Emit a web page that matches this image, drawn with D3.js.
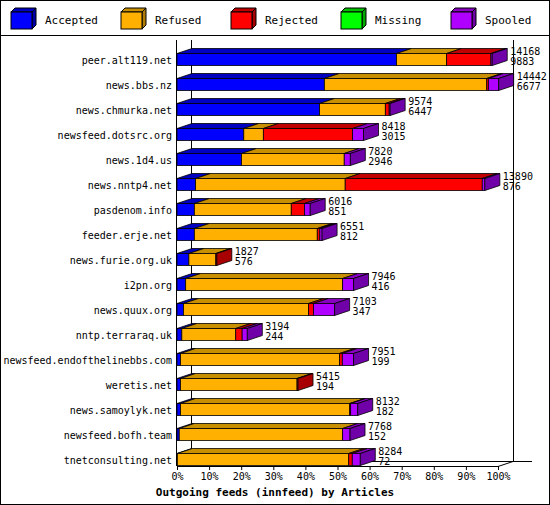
<!DOCTYPE html>
<html><head><meta charset="utf-8">
<script src="https://cdn.jsdelivr.net/npm/d3@7"></script>
<style>body{margin:0;background:#fff}</style>
</head><body>
<script>
// feed names, top to bottom
const feeds = ["peer.alt119.net","news.bbs.nz","news.chmurka.net","newsfeed.dotsrc.org","news.1d4.us",
  "news.nntp4.net","pasdenom.info","feeder.erje.net","news.furie.org.uk","i2pn.org","news.quux.org",
  "nntp.terraraq.uk","newsfeed.endofthelinebbs.com","weretis.net","news.samoylyk.net","newsfeed.bofh.team","tnetconsulting.net"];
// shares in percent of offered articles
const accepted = [68.4,45.9,44.4,20.8,20.1,5.8,5.4,5.4,3.7,2.7,2.0,1.5,1.1,1.1,1.1,0.7,0.1];
const refused  = [15.6,50.6,20.5,6.1,32.0,46.6,30.2,38.3,8.4,48.9,39.0,16.8,49.5,36.3,52.7,50.9,53.4];
const rejected = [13.8,0.5,1.2,27.8,0,42.7,4.1,0.8,0.3,0,1.5,2.0,0.9,0.3,0.3,0,1.1];
const missing  = [0,0,0,0,0,0,0,0,0,0,0,0,0,0,0,0,0];
const spooled  = [0.4,3.2,0.3,3.4,1.9,0.8,1.8,0.7,0,3.4,6.6,1.6,3.5,0,2.2,2.3,2.5];
const offered  = [14168,14442,9574,8418,7820,13890,6016,6551,1827,7946,7103,3194,7951,5415,8132,7768,8284];
const acceptedCount = [9883,6677,6447,3015,2946,876,851,812,576,416,347,244,199,194,182,152,72];
const ticks = [0,10,20,30,40,50,60,70,80,90,100];

const series = [
  {name:"Accepted", data:accepted, front:"#0000ff", side:"#0000a8", top:"#0000c0"},
  {name:"Refused",  data:refused,  front:"#ffb000", side:"#b07c00", top:"#c89000"},
  {name:"Rejected", data:rejected, front:"#ff0000", side:"#a80000", top:"#c00000"},
  {name:"Missing",  data:missing,  front:"#00ff00", side:"#00a800", top:"#00c000"},
  {name:"Spooled",  data:spooled,  front:"#b000ff", side:"#7000a8", top:"#8800c0"}
];

const W = 550, H = 505, dx = 15, dy = 5, barH = 12;
const font = "'DejaVu Sans Mono', monospace";
const svg = d3.select("body").append("svg").attr("width", W).attr("height", H)
  .style("font-family", font).style("font-size", "10px");

svg.append("rect").attr("x",0.5).attr("y",0.5).attr("width",W-1).attr("height",H-1)
  .attr("fill","none").attr("stroke","#000");
svg.append("line").attr("x1",0).attr("x2",W).attr("y1",35.5).attr("y2",35.5).attr("stroke","#000");

// legend
series.forEach((s, i) => {
  const g = svg.append("g").attr("transform", `translate(${11 + i*110},12)`);
  g.append("path").attr("d","M0,0 L4,-4 L25,-4 L21,0Z").attr("fill",s.top).attr("stroke","#000");
  g.append("path").attr("d","M21,0 L25,-4 L25,13 L21,17Z").attr("fill",s.side).attr("stroke","#000");
  g.append("rect").attr("width",21).attr("height",17).attr("fill",s.front).attr("stroke","#000");
  g.append("text").attr("x",34).attr("y",12).style("font-size","11px").text(s.name);
});

const x = d3.scaleLinear().domain([0,100]).range([177,498]);
const y = d3.scaleBand().domain(feeds).range([47,472]).paddingInner(0.52).paddingOuter(0.26);

// axes frame
const y0 = 466, yTop = 40;
svg.append("line").attr("x1",176.5).attr("x2",176.5).attr("y1",yTop).attr("y2",y0).attr("stroke","#000");
svg.append("line").attr("x1",191.5).attr("x2",191.5).attr("y1",yTop).attr("y2",y0-dy).attr("stroke","#000");
svg.append("line").attr("x1",x(100)+dx+0.5).attr("x2",x(100)+dx+0.5).attr("y1",yTop).attr("y2",y0-dy).attr("stroke","#000");
svg.append("line").attr("x1",191).attr("x2",532).attr("y1",y0-dy+0.5).attr("y2",y0-dy+0.5).attr("stroke","#000");
svg.append("line").attr("x1",177).attr("x2",x(100)).attr("y1",y0+0.5).attr("y2",y0+0.5).attr("stroke","#000");
svg.append("line").attr("x1",x(100)).attr("x2",x(100)+dx).attr("y1",y0+0.5).attr("y2",y0-dy+0.5).attr("stroke","#000");

const xa = svg.append("g").attr("transform",`translate(0,${y0})`)
  .call(d3.axisBottom(x).tickValues(ticks).tickFormat(d => d + "%").tickSize(4));
xa.select(".domain").remove();
xa.selectAll("text").style("font-family",font).style("font-size","10px");

// category labels
svg.selectAll(".cat").data(feeds).join("text")
  .attr("x",172).attr("y",d => y(d) + barH/2 + 4).attr("text-anchor","end").text(d => d);

// stacked 3D bars
feeds.forEach((f, i) => {
  let acc = 0;
  const top = y(f);
  const segs = [];
  series.forEach(s => {
    const v = s.data[i];
    if (v > 0) segs.push({s, a: acc, b: acc + v});
    acc += v;
  });
  const g = svg.append("g");
  segs.forEach(({s, a, b}) => {
    const xa0 = x(a), xb = x(b);
    g.append("path").attr("d",`M${xa0},${top} L${xa0+dx},${top-dy} L${xb+dx},${top-dy} L${xb},${top}Z`)
      .attr("fill",s.top).attr("stroke","#000").attr("stroke-width",0.8);
    g.append("rect").attr("x",xa0).attr("y",top).attr("width",xb-xa0).attr("height",barH)
      .attr("fill",s.front).attr("stroke","#000").attr("stroke-width",0.8);
  });
  const last = segs[segs.length-1], xe = x(last.b);
  g.append("path").attr("d",`M${xe},${top} L${xe+dx},${top-dy} L${xe+dx},${top+barH-dy} L${xe},${top+barH}Z`)
    .attr("fill",last.s.side).attr("stroke","#000").attr("stroke-width",0.8);
  g.append("text").attr("x",xe+dx+3).attr("y",top+1).text(offered[i]);
  g.append("text").attr("x",xe+dx+3).attr("y",top+11).text(acceptedCount[i]);
});

svg.append("text").attr("x",275).attr("y",496).attr("text-anchor","middle").style("font-size","11px")
  .attr("font-weight","bold").text("Outgoing feeds (innfeed) by Articles");
</script>
</body></html>
